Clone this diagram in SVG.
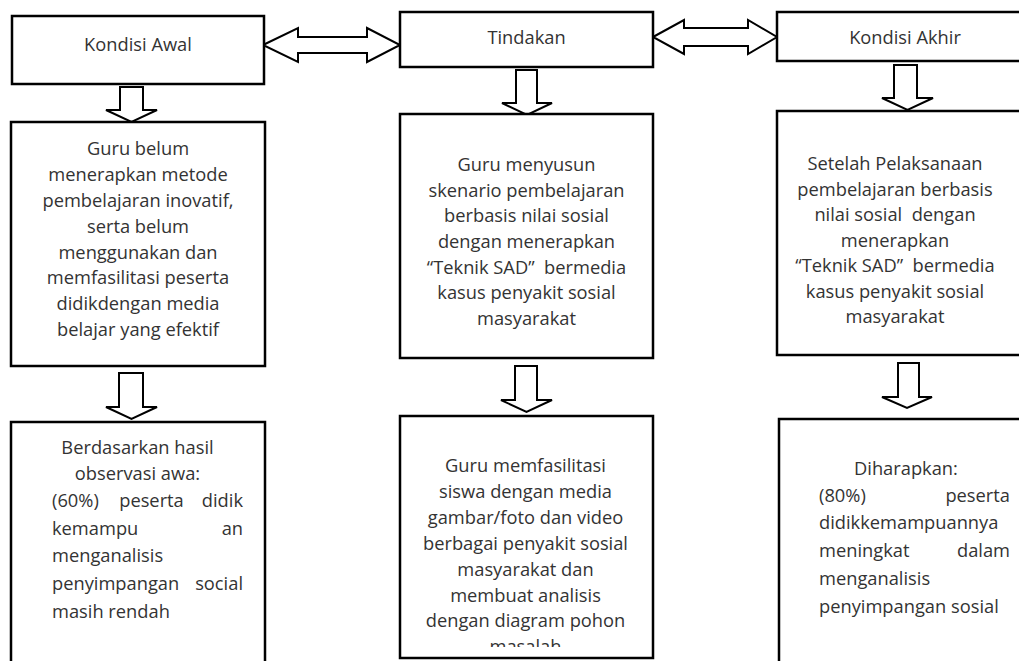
<svg xmlns="http://www.w3.org/2000/svg" width="1019" height="661" viewBox="0 0 1019 661">
<defs>
<style>
.box{fill:#fff;stroke:#000;stroke-width:2.5}
.arr{fill:#fff;stroke:#000;stroke-width:2;stroke-linejoin:miter}
text{font-family:"Open Sans",Lato,"Liberation Sans",sans-serif;font-size:18.3px;fill:#333;white-space:pre;font-variant-ligatures:none}
.c{text-anchor:middle}
.e{text-anchor:end}
</style>
<clipPath id="clipM"><rect x="400" y="416" width="253" height="231"/></clipPath>
</defs>
<rect width="1019" height="661" fill="#fff"/>
<g id="connectors">
<polygon class="arr" points="263,45 298,28 298,37 367,37 367,28 400,45 367,62 367,53 298,53 298,62"/>
<polygon class="arr" points="653,37 684,20 684,28 748,28 748,20 777,37 748,54 748,46 684,46 684,54"/>
<polygon class="arr" points="120,87 143,87 143,110 157,110 131.5,122 106,110 120,110"/>
<polygon class="arr" points="119,373 143,373 143,407 157,407 131.5,419 106,407 119,407"/>
<polygon class="arr" points="516,70 537,70 537,103 552,103 527,115 502,103 516,103"/>
<polygon class="arr" points="515,366 537,366 537,400 552,400 526.5,412 501,400 515,400"/>
<polygon class="arr" points="894,65 917,65 917,98 933,98 907.5,110 882,98 894,98"/>
<polygon class="arr" points="898,363 919,363 919,397 932,397 907,408 882,397 898,397"/>
</g>
<g id="kondisi-awal">
<rect class="box" x="12" y="16" width="252" height="68"/>
<text class="c" x="138" y="51">Kondisi Awal</text>
</g>
<g id="tindakan">
<rect class="box" x="400" y="12" width="253" height="55"/>
<text class="c" x="526.5" y="44">Tindakan</text>
</g>
<g id="kondisi-akhir">
<rect class="box" x="777" y="12" width="260" height="49"/>
<text class="c" x="905" y="44">Kondisi Akhir</text>
</g>
<g id="awal-detail">
<rect class="box" x="11" y="122" width="254" height="244"/>
<text class="c" x="138" y="155">Guru belum</text>
<text class="c" x="138" y="181">menerapkan metode</text>
<text class="c" x="138" y="207">pembelajaran inovatif,</text>
<text class="c" x="138" y="233">serta belum</text>
<text class="c" x="138" y="259">menggunakan dan</text>
<text class="c" x="138" y="284">memfasilitasi peserta</text>
<text class="c" x="138" y="310">didikdengan media</text>
<text class="c" x="138" y="336">belajar yang efektif</text>
</g>
<g id="tindakan-detail">
<rect class="box" x="400" y="114" width="253" height="244"/>
<text class="c" x="526.5" y="171">Guru menyusun</text>
<text class="c" x="526.5" y="197">skenario pembelajaran</text>
<text class="c" x="526.5" y="222">berbasis nilai sosial</text>
<text class="c" x="526.5" y="248">dengan menerapkan</text>
<text class="c" x="526.5" y="274">“Teknik SAD”  bermedia</text>
<text class="c" x="526.5" y="299">kasus penyakit sosial</text>
<text class="c" x="526.5" y="325">masyarakat</text>
</g>
<g id="akhir-detail">
<rect class="box" x="777" y="111" width="260" height="244"/>
<text class="c" x="895" y="170">Setelah Pelaksanaan</text>
<text class="c" x="895" y="196">pembelajaran berbasis</text>
<text class="c" x="895" y="221">nilai sosial  dengan</text>
<text class="c" x="895" y="247">menerapkan</text>
<text class="c" x="895" y="272">“Teknik SAD”  bermedia</text>
<text class="c" x="895" y="298">kasus penyakit sosial</text>
<text class="c" x="895" y="323">masyarakat</text>
</g>
<g id="awal-hasil">
<rect class="box" x="11" y="422" width="254" height="260"/>
<text class="c" x="137.5" y="454">Berdasarkan hasil</text>
<text class="c" x="137.5" y="480">observasi awa:</text>
<text x="52" y="507">(60%)</text>
<text class="c" x="151.5" y="507">peserta</text>
<text class="e" x="243" y="507">didik</text>
<text x="52" y="535">kemampu</text>
<text class="e" x="243" y="535">an</text>
<text x="52" y="562">menganalisis</text>
<text x="52" y="590">penyimpangan</text>
<text class="e" x="243" y="590">social</text>
<text x="52" y="618">masih rendah</text>
</g>
<g id="tindakan-hasil">
<rect class="box" x="400" y="416" width="253" height="242"/>
<g clip-path="url(#clipM)">
<text class="c" x="525.5" y="472">Guru memfasilitasi</text>
<text class="c" x="525.5" y="498">siswa dengan media</text>
<text class="c" x="525.5" y="524">gambar/foto dan video</text>
<text class="c" x="525.5" y="550">berbagai penyakit sosial</text>
<text class="c" x="525.5" y="576">masyarakat dan</text>
<text class="c" x="525.5" y="602">membuat analisis</text>
<text class="c" x="525.5" y="627">dengan diagram pohon</text>
<text class="c" x="525.5" y="653">masalah</text>
</g>
</g>
<g id="akhir-hasil">
<rect class="box" x="779" y="419" width="258" height="260"/>
<text x="854" y="475">Diharapkan:</text>
<text x="819" y="502">(80%)</text>
<text class="e" x="1010" y="502">peserta</text>
<text x="819" y="529">didikkemampuannya</text>
<text x="819" y="557">meningkat</text>
<text class="e" x="1010" y="557">dalam</text>
<text x="819" y="585">menganalisis</text>
<text x="819" y="613">penyimpangan sosial</text>
</g>
</svg>
